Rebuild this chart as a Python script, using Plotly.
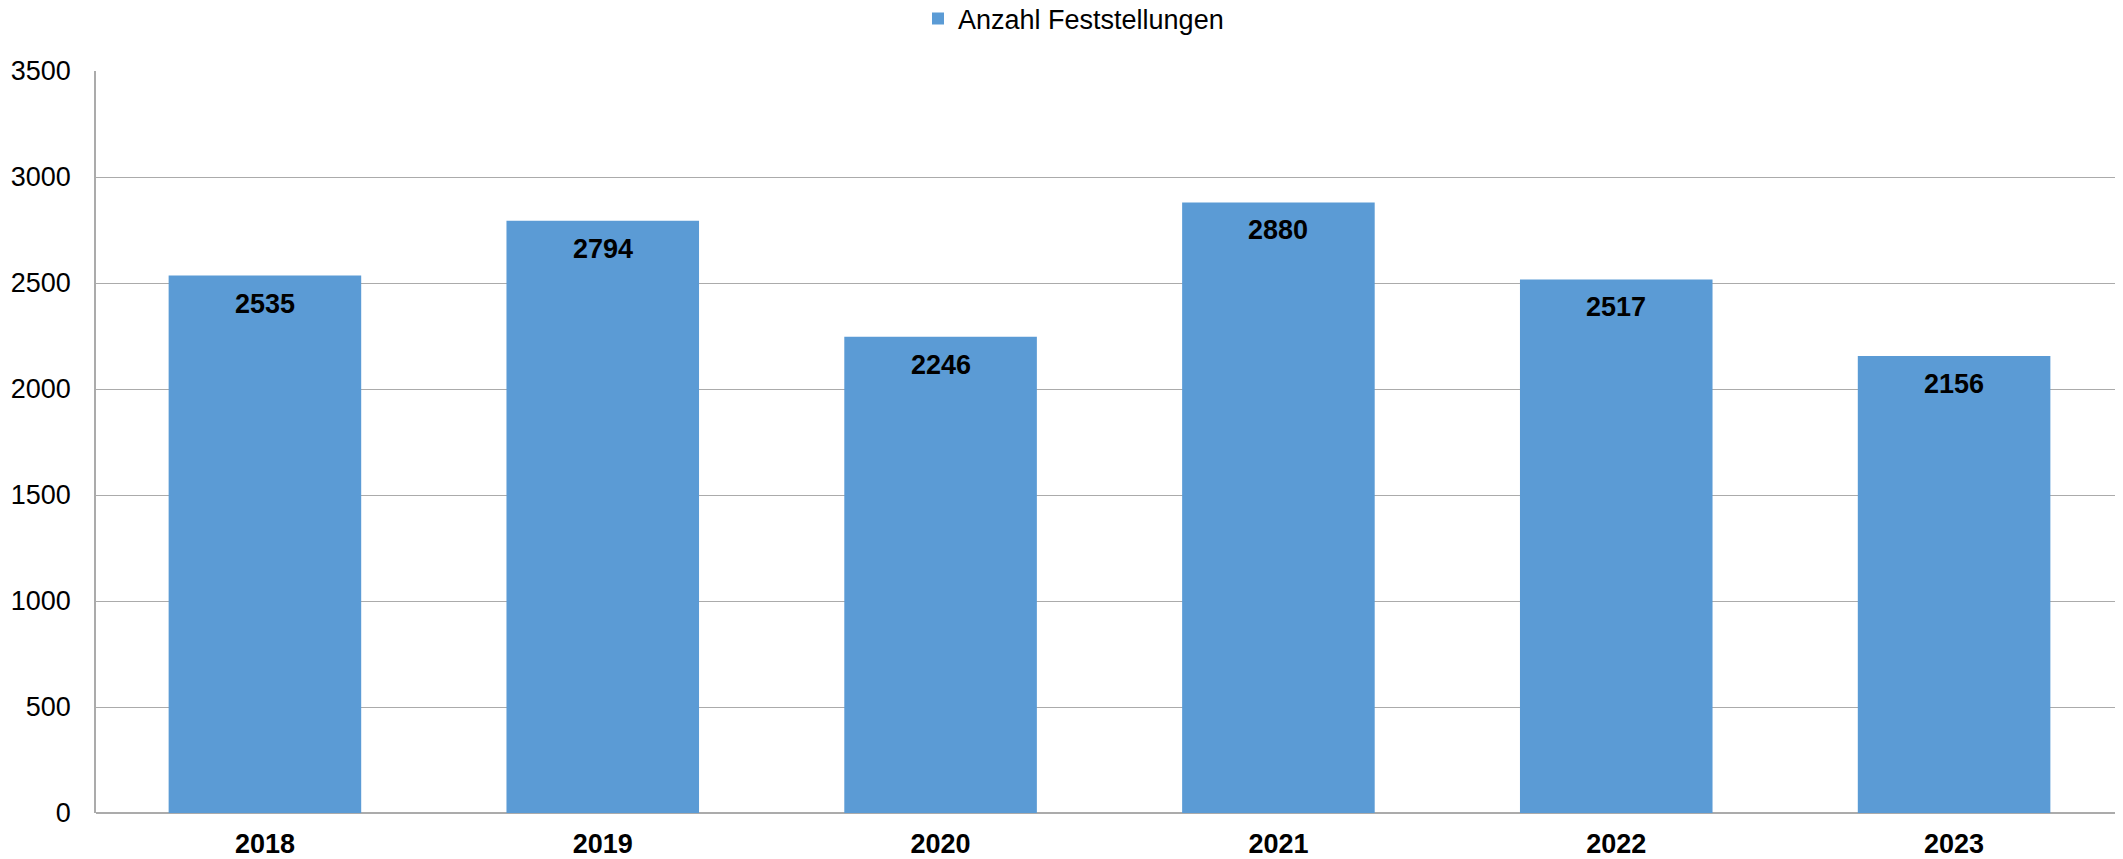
import plotly.graph_objects as go

years = ["2018", "2019", "2020", "2021", "2022", "2023"]
values = [2535, 2794, 2246, 2880, 2517, 2156]
series_name = "Anzahl Feststellungen"
y_ticks = [0, 500, 1000, 1500, 2000, 2500, 3000, 3500]

BAR_COLOR = "#5B9BD5"
GRID = "#ABABAB"
FONT = "Liberation Sans, Arial, sans-serif"

# the page body has an 8px default margin, so the figure is sized to fit
W, H = 2115, 851

fig = go.Figure()
fig.add_trace(go.Bar(
    x=years, y=values, name=series_name,
    marker=dict(color=BAR_COLOR, line=dict(width=0)),
    width=0.57,
    hoverinfo="x+y",
))

for i, v in enumerate(values):
    fig.add_annotation(
        x=i, y=v, text="<b>%d</b>" % v, showarrow=False,
        xref="x", yref="y",
        yanchor="middle", yshift=-28,
        font=dict(family=FONT, size=27, color="#000000"),
    )

fig.update_layout(
    width=W, height=H,
    margin=dict(l=88, r=0, t=63, b=46, autoexpand=False),
    paper_bgcolor="white", plot_bgcolor="white",
    font=dict(family=FONT, color="#000000"),
    showlegend=True,
    legend=dict(
        orientation="h", xref="container", yref="container",
        x=910 / W, xanchor="left", y=1 - 11 / H, yanchor="middle",
        font=dict(family=FONT, size=27, color="#000000"),
        bgcolor="rgba(0,0,0,0)",
    ),
)
fig.update_xaxes(
    type="category",
    range=[-0.5, len(years) - 0.5],
    automargin=False,
    showgrid=False,
    showline=False,
    ticks="",
    tickfont=dict(family=FONT, size=27, color="#000000", weight="bold"),
    ticklabelstandoff=12,
)
fig.update_yaxes(
    range=[0, 3500],
    automargin=False,
    tickvals=y_ticks,
    ticktext=[str(t) for t in y_ticks],
    showgrid=True, gridcolor=GRID, gridwidth=1.3,
    showline=True, linecolor=GRID, linewidth=1.6,
    zeroline=True, zerolinecolor=GRID, zerolinewidth=1.6,
    ticks="",
    tickfont=dict(family=FONT, size=27, color="#000000"),
    ticklabelstandoff=18,
)

fig.write_html("out.html")
